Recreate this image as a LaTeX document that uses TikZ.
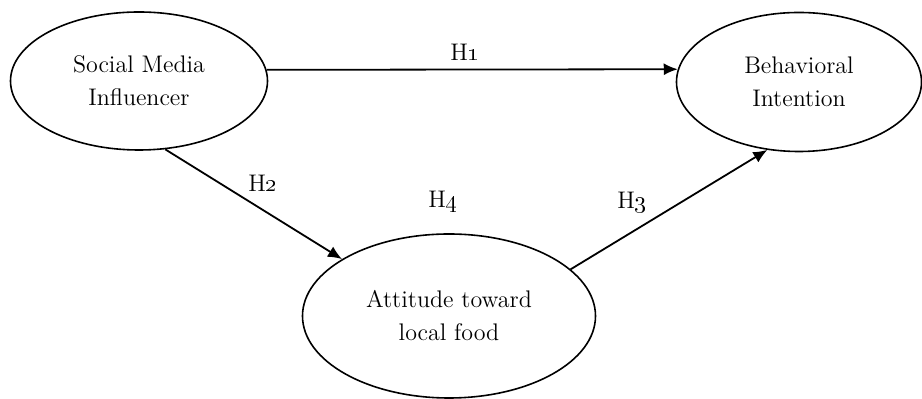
\documentclass[tikz,border=0pt]{standalone}
\usetikzlibrary{shapes.geometric,arrows.meta}
\begin{document}
\begin{tikzpicture}[x=0.5pt,y=-0.5pt,
  construct/.style={draw=black, line width=0.8pt, ellipse, inner sep=0pt, align=center,
    font=\fontsize{12}{16.5}\selectfont},
  path/.style={line width=0.9pt, -{Latex[length=7pt,width=6pt]}},
  hyp/.style={font=\fontsize{12}{14}\selectfont, inner sep=0pt}]
\useasboundingbox (0,0) rectangle (922,399);
\node[construct, minimum width=128.5pt, minimum height=69pt] (smi) at (139,81) {Social Media\\Influencer};
\node[construct, minimum width=122.5pt, minimum height=69.5pt] (bi) at (799,82) {Behavioral\\Intention};
\node[construct, minimum width=146.5pt, minimum height=82pt] (att) at (449,316) {Attitude toward\\local food};
\draw[path] (smi.5) -- (bi.174);
\draw[path] (smi.291) -- (att.152);
\draw[path] (att.21) -- (bi.245);
\node[hyp] (h1) at (465,52) {H\oldstylenums{1}};
\node[hyp] (h2) at (263,183) {H\oldstylenums{2}};
\node[hyp] (h3) at (632,203) {H\oldstylenums{3}};
\node[hyp] (h4) at (443,202) {H\oldstylenums{4}};
\end{tikzpicture}
\end{document}
